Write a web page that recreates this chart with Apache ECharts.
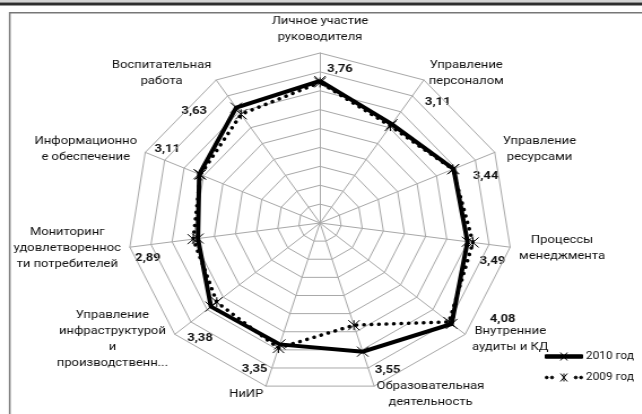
<!DOCTYPE html>
<html>
<head>
<meta charset="utf-8">
<script src="https://cdn.jsdelivr.net/npm/echarts@6/dist/echarts.min.js"></script>
<style>
html, body { margin: 0; padding: 0; background: #fff; overflow: hidden; }
/* the source picture is a radar that was stretched sideways, so the canvas is too */
#chart { width: 568px; height: 414px; transform: scaleX(1.13); transform-origin: 0 0; }
</style>
</head>
<body>
<div id="chart"></div>
<script>
// axes, clockwise from the top as in the picture
var categories = [
    'Личное участие\nруководителя',
    'Управление\nперсоналом',
    'Управление\nресурсами',
    'Процессы\nменеджмента',
    'Внутренние\nаудиты и КД',
    'Образовательная\nдеятельность',
    'НиИР',
    'Управление\nинфраструктурой\nи\nпроизводственн...',
    'Мониторинг\nудовлетвореннос\nти потребителей',
    'Информационно\nе обеспечение',
    'Воспитательная\nработа'
];
var values2010 = [3.76, 3.11, 3.44, 3.49, 4.08, 3.55, 3.35, 3.38, 2.89, 3.11, 3.63];
var values2009 = [3.72, 3.05, 3.42, 3.62, 4.00, 2.82, 3.45, 3.20, 3.00, 3.08, 3.42];
var seriesNames = ['2010 год', '2009 год'];
var axisMax = 4.5;
var axisSplits = 9;

// where each 2010 value label sits from its point, in picture px
var labelOffsets = [[20, -12], [46, -22], [32, 7], [25, 19], [51, -5], [25, 18],
                    [-25, 25], [-11, 32], [-50, 20], [-32, -25], [-42, 3]];

var STRETCH = 1.13;
var FONT = 'Roboto, "Liberation Sans", sans-serif';
var INK = '#111';
var GRID = '#a8a8a8';

// echarts puts radar indicators counter-clockwise, the picture runs clockwise
var order = categories.map(function (c, i) { return i === 0 ? 0 : categories.length - i; });
function reorder(arr) { return order.map(function (i) { return arr[i]; }); }

var chart = echarts.init(document.getElementById('chart'));

chart.setOption({
    animation: false,
    backgroundColor: '#fff',
    graphic: [
        { id: 'band', type: 'rect', shape: { x: 0, y: 0, width: 568, height: 2.5 }, style: { fill: '#d4d4d4' } },
        { id: 'top', type: 'rect', shape: { x: 0, y: 2.5, width: 568, height: 3 }, style: { fill: '#2e2e2e' } },
        { id: 'frameTop', type: 'line', shape: { x1: 8.5, y1: 12.7, x2: 568, y2: 12.7 }, style: { stroke: '#777', lineWidth: 1.5 } },
        { id: 'frameLeft', type: 'line', shape: { x1: 8.6, y1: 12, x2: 8.6, y2: 414 }, style: { stroke: '#777', lineWidth: 1.5 } }
    ],
    legend: {
        orient: 'vertical',
        left: 482,
        top: 351,
        padding: 0,
        itemWidth: 33,
        itemHeight: 8,
        itemGap: 10,
        textStyle: { fontFamily: FONT, fontSize: 10.5, color: INK, padding: [0, 0, 0, -2] },
        itemStyle: { color: '#000', borderColor: '#000', borderWidth: 1 },
        data: [
            { name: seriesNames[0], icon: 'path://M0,2.3L33,2.3L33,5.7L0,5.7Z M13.5,0L19.5,8M19.5,0L13.5,8' },
            { name: seriesNames[1], icon: 'path://M0,4a1.3,1.3 0 1,0 2.6,0a1.3,1.3 0 1,0 -2.6,0Z M4.7,4a1.3,1.3 0 1,0 2.6,0a1.3,1.3 0 1,0 -2.6,0Z M13.5,0L19.5,8M19.5,0L13.5,8M16.5,0L16.5,8 M25.7,4a1.3,1.3 0 1,0 2.6,0a1.3,1.3 0 1,0 -2.6,0Z M30.4,4a1.3,1.3 0 1,0 2.6,0a1.3,1.3 0 1,0 -2.6,0Z' }
        ]
    },
    radar: {
        center: [320 / STRETCH, 223],
        radius: 170,
        startAngle: 90,
        shape: 'polygon',
        splitNumber: axisSplits,
        axisNameGap: 8,
        indicator: reorder(categories).map(function (n) { return { name: n, min: 0, max: axisMax }; }),
        axisName: {
            color: INK,
            fontFamily: FONT,
            fontSize: 11.5,
            lineHeight: 16,
            formatter: function (name) {
                return name.split('\n').map(function (l) { return '{c|' + l + '}'; }).join('\n');
            },
            rich: { c: { align: 'center', color: INK, fontFamily: FONT, fontSize: 11.5, lineHeight: 16 } }
        },
        axisLine: { lineStyle: { color: GRID, width: 1 } },
        splitLine: { lineStyle: { color: GRID, width: 1 } },
        splitArea: { show: false },
        axisTick: { show: false },
        axisLabel: { show: false }
    },
    series: [{
        type: 'radar',
        data: [
            {
                name: seriesNames[0],
                value: reorder(values2010),
                symbol: 'path://M0,0L10,10M10,0L0,10',
                symbolSize: 10,
                lineStyle: { color: '#000', width: 4, join: 'miter' },
                itemStyle: { color: '#000', borderColor: '#000', borderWidth: 1 }
            },
            {
                name: seriesNames[1],
                value: reorder(values2009),
                symbol: 'path://M0,0L10,10M10,0L0,10M5,0L5,10',
                symbolSize: 10,
                lineStyle: { color: '#000', width: 3.5, type: [0.1, 6.5], cap: 'round' },
                itemStyle: { color: '#000', borderColor: '#000', borderWidth: 1 }
            }
        ]
    }]
});

// value labels of the 2010 series, placed from the radar's own points
var radarCS = chart.getModel().getComponent('radar').coordinateSystem;
var valueLabels = values2010.map(function (v, i) {
    var p = radarCS.dataToPoint(v, order.indexOf(i));
    return {
        id: 'lbl' + i,
        type: 'text',
        x: p[0] + labelOffsets[i][0] / STRETCH,
        y: p[1] + labelOffsets[i][1],
        style: {
            text: v.toFixed(2).replace('.', ','),
            font: 'bold 11.5px ' + FONT,
            fill: INK,
            align: 'center',
            verticalAlign: 'middle'
        }
    };
});
chart.setOption({ graphic: valueLabels });
</script>
</body>
</html>
